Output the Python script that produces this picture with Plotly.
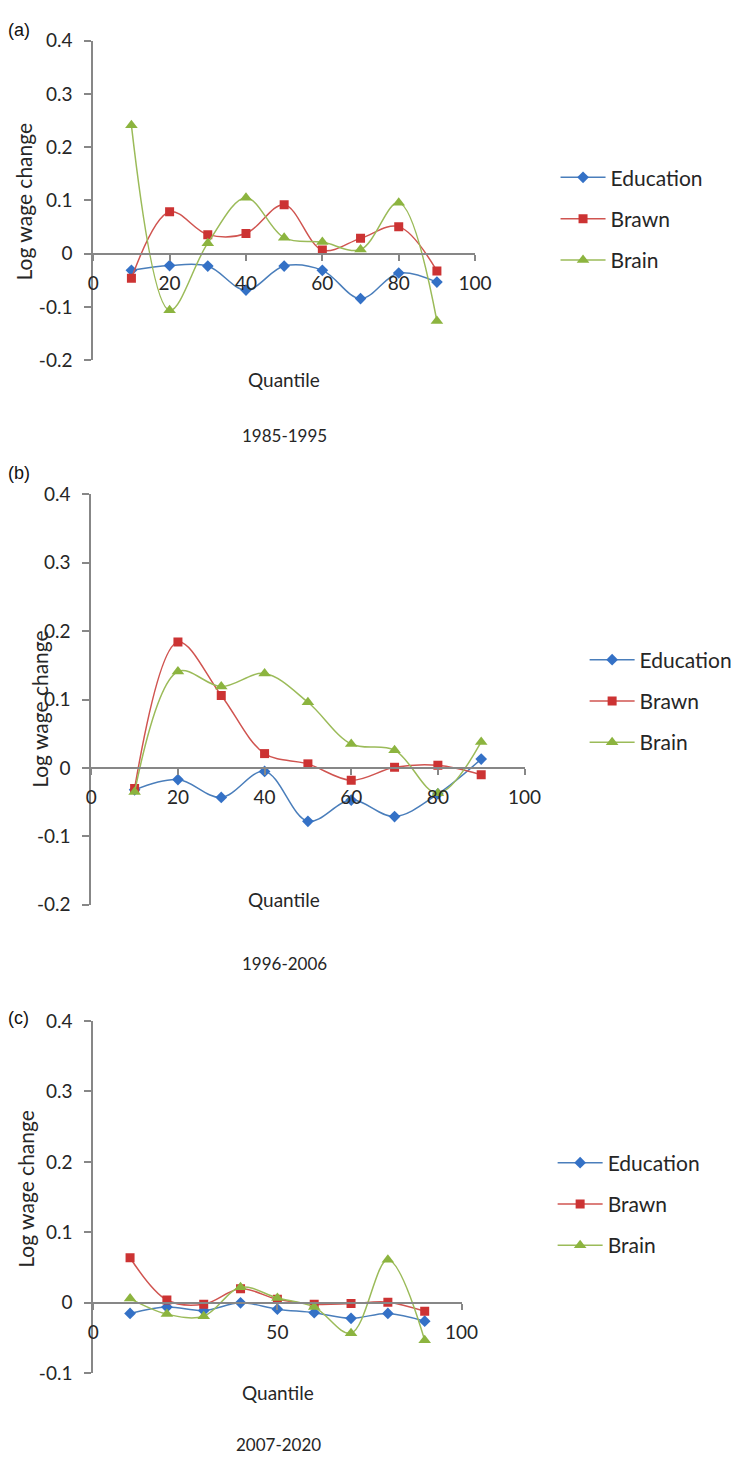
import plotly.graph_objects as go

W, H = 747, 1467

quantiles = [10, 20, 30, 40, 50, 60, 70, 80, 90]
series_names = ["Education", "Brawn", "Brain"]

edu_a = [-0.031, -0.022, -0.023, -0.068, -0.023, -0.031, -0.084, -0.036, -0.053]
brawn_a = [-0.046, 0.079, 0.036, 0.038, 0.092, 0.007, 0.029, 0.051, -0.032]
brain_a = [0.241, -0.106, 0.020, 0.105, 0.030, 0.022, 0.008, 0.096, -0.126]

edu_b = [-0.032, -0.017, -0.043, -0.005, -0.078, -0.047, -0.071, -0.038, 0.013]
brawn_b = [-0.030, 0.184, 0.106, 0.021, 0.006, -0.018, 0.001, 0.004, -0.010]
brain_b = [-0.035, 0.141, 0.119, 0.138, 0.096, 0.035, 0.026, -0.037, 0.038]

edu_c = [-0.015, -0.006, -0.011, 0.000, -0.009, -0.014, -0.022, -0.015, -0.026]
brawn_c = [0.064, 0.004, -0.002, 0.020, 0.005, -0.002, -0.001, 0.001, -0.012]
brain_c = [0.006, -0.016, -0.019, 0.022, 0.007, -0.006, -0.043, 0.061, -0.053]

ytick_vals_ab = [-0.2, -0.1, 0, 0.1, 0.2, 0.3, 0.4]
ytick_text_ab = ["-0.2", "-0.1", "0", "0.1", "0.2", "0.3", "0.4"]
ytick_vals_c = [-0.1, 0, 0.1, 0.2, 0.3, 0.4]
ytick_text_c = ["-0.1", "0", "0.1", "0.2", "0.3", "0.4"]

panel_labels = ["(a)", "(b)", "(c)"]
period_labels = ["1985-1995", "1996-2006", "2007-2020"]
y_title = "Log wage change"
x_title = "Quantile"

FONT = "Lato"
TXT = "#262626"
AX = "#878787"
line_cols = ["#4A7EBB", "#D05450", "#9BBB59"]
mark_cols = ["#3471C6", "#CC3333", "#8CB43F"]
symbols = ["diamond", "square", "triangle-up"]
msizes = [9, 9, 11]

# pixel layout of each panel: (x_left, x_right, y_top, y_bottom)
panels = [
    dict(px=(90, 484, 29, 354), yr=(-0.2, 0.4), tv=ytick_vals_ab, tt=ytick_text_ab, xdt=20,
         data=[edu_a, brawn_a, brain_a], leg=(567, 210), lab_y=18,
         qx=287, qy=373, py=430, ytx=19, yty=192),
    dict(px=(88, 535, 490, 907), yr=(-0.2, 0.4), tv=ytick_vals_ab, tt=ytick_text_ab, xdt=20,
         data=[edu_b, brawn_b, brain_b], leg=(597, 700), lab_y=468,
         qx=287, qy=902, py=967, ytx=35, yty=708),
    dict(px=(90, 470, 1025, 1383), yr=(-0.1, 0.4), tv=ytick_vals_c, tt=ytick_text_c, xdt=50,
         data=[edu_c, brawn_c, brain_c], leg=(564, 1211), lab_y=1022,
         qx=281, qy=1402, py=1455, ytx=20, yty=1195),
]

fig = go.Figure()
annotations = []
layout = {}

for i, p in enumerate(panels):
    k = "" if i == 0 else str(i + 1)
    xl, xr, yt, yb = p["px"]
    xd = [xl / W, xr / W]
    yd = [1 - yb / H, 1 - yt / H]
    r0, r1 = p["yr"]
    zero_pos = yd[0] + (0 - r0) / (r1 - r0) * (yd[1] - yd[0])
    legname = "legend" + k
    for j, name in enumerate(series_names):
        fig.add_trace(go.Scatter(
            x=quantiles, y=p["data"][j], name=name, mode="lines+markers",
            xaxis="x" + k, yaxis="y" + k,
            line=dict(color=line_cols[j], width=1.5, shape="spline", smoothing=1),
            marker=dict(symbol=symbols[j], size=msizes[j], color=mark_cols[j]),
            legend=legname, legendgroup=f"{i}_{j}",
        ))
    layout["xaxis" + k] = dict(
        domain=xd, range=[0, 100], anchor="free", position=zero_pos,
        tickmode="linear", tick0=0, dtick=p["xdt"],
        showline=True, linecolor=AX, linewidth=2,
        ticks="outside", ticklen=6, tickcolor=AX, tickwidth=2,
        showgrid=False, zeroline=False,
        tickfont=dict(family=FONT, size=19, color=TXT),
        ticklabelstandoff=6,
    )
    layout["yaxis" + k] = dict(
        domain=yd, range=[r0, r1], anchor="x" + k,
        tickmode="array", tickvals=p["tv"], ticktext=p["tt"],
        showline=True, linecolor=AX, linewidth=2,
        ticks="outside", ticklen=7, tickcolor=AX, tickwidth=2,
        showgrid=False, zeroline=False,
        tickfont=dict(family=FONT, size=19, color=TXT),
        ticklabelstandoff=8,
    )
    lx, ly = p["leg"]
    layout[legname] = dict(
        x=lx / W, y=1 - ly / H, xanchor="left", yanchor="middle",
        font=dict(family=FONT, size=21, color=TXT),
        bgcolor="rgba(0,0,0,0)", tracegroupgap=11, traceorder="grouped",
        itemwidth=45,
    )
    annotations.append(dict(text=panel_labels[i], x=0, y=1 - p["lab_y"] / H,
                            xref="paper", yref="paper", xanchor="left", yanchor="middle",
                            showarrow=False, font=dict(family="Liberation Sans", size=18, color="#111")))
    annotations.append(dict(text=x_title, x=p["qx"] / W, y=1 - p["qy"] / H,
                            xref="paper", yref="paper", xanchor="center", yanchor="middle",
                            showarrow=False, font=dict(family=FONT, size=19, color=TXT)))
    annotations.append(dict(text=period_labels[i], x=p["qx"] / W, y=1 - p["py"] / H,
                            xref="paper", yref="paper", xanchor="center", yanchor="middle",
                            showarrow=False, font=dict(family=FONT, size=17, color=TXT)))
    annotations.append(dict(text=y_title, x=p["ytx"] / W, y=1 - p["yty"] / H, textangle=-90,
                            xref="paper", yref="paper", xanchor="center", yanchor="middle",
                            showarrow=False, font=dict(family=FONT, size=21, color=TXT)))

fig.update_layout(
    width=W, height=H, margin=dict(l=0, r=0, t=0, b=0),
    paper_bgcolor="white", plot_bgcolor="white",
    showlegend=True, annotations=annotations, **layout,
)

fig.write_html("out.html", post_script="document.body.style.margin='0';")
